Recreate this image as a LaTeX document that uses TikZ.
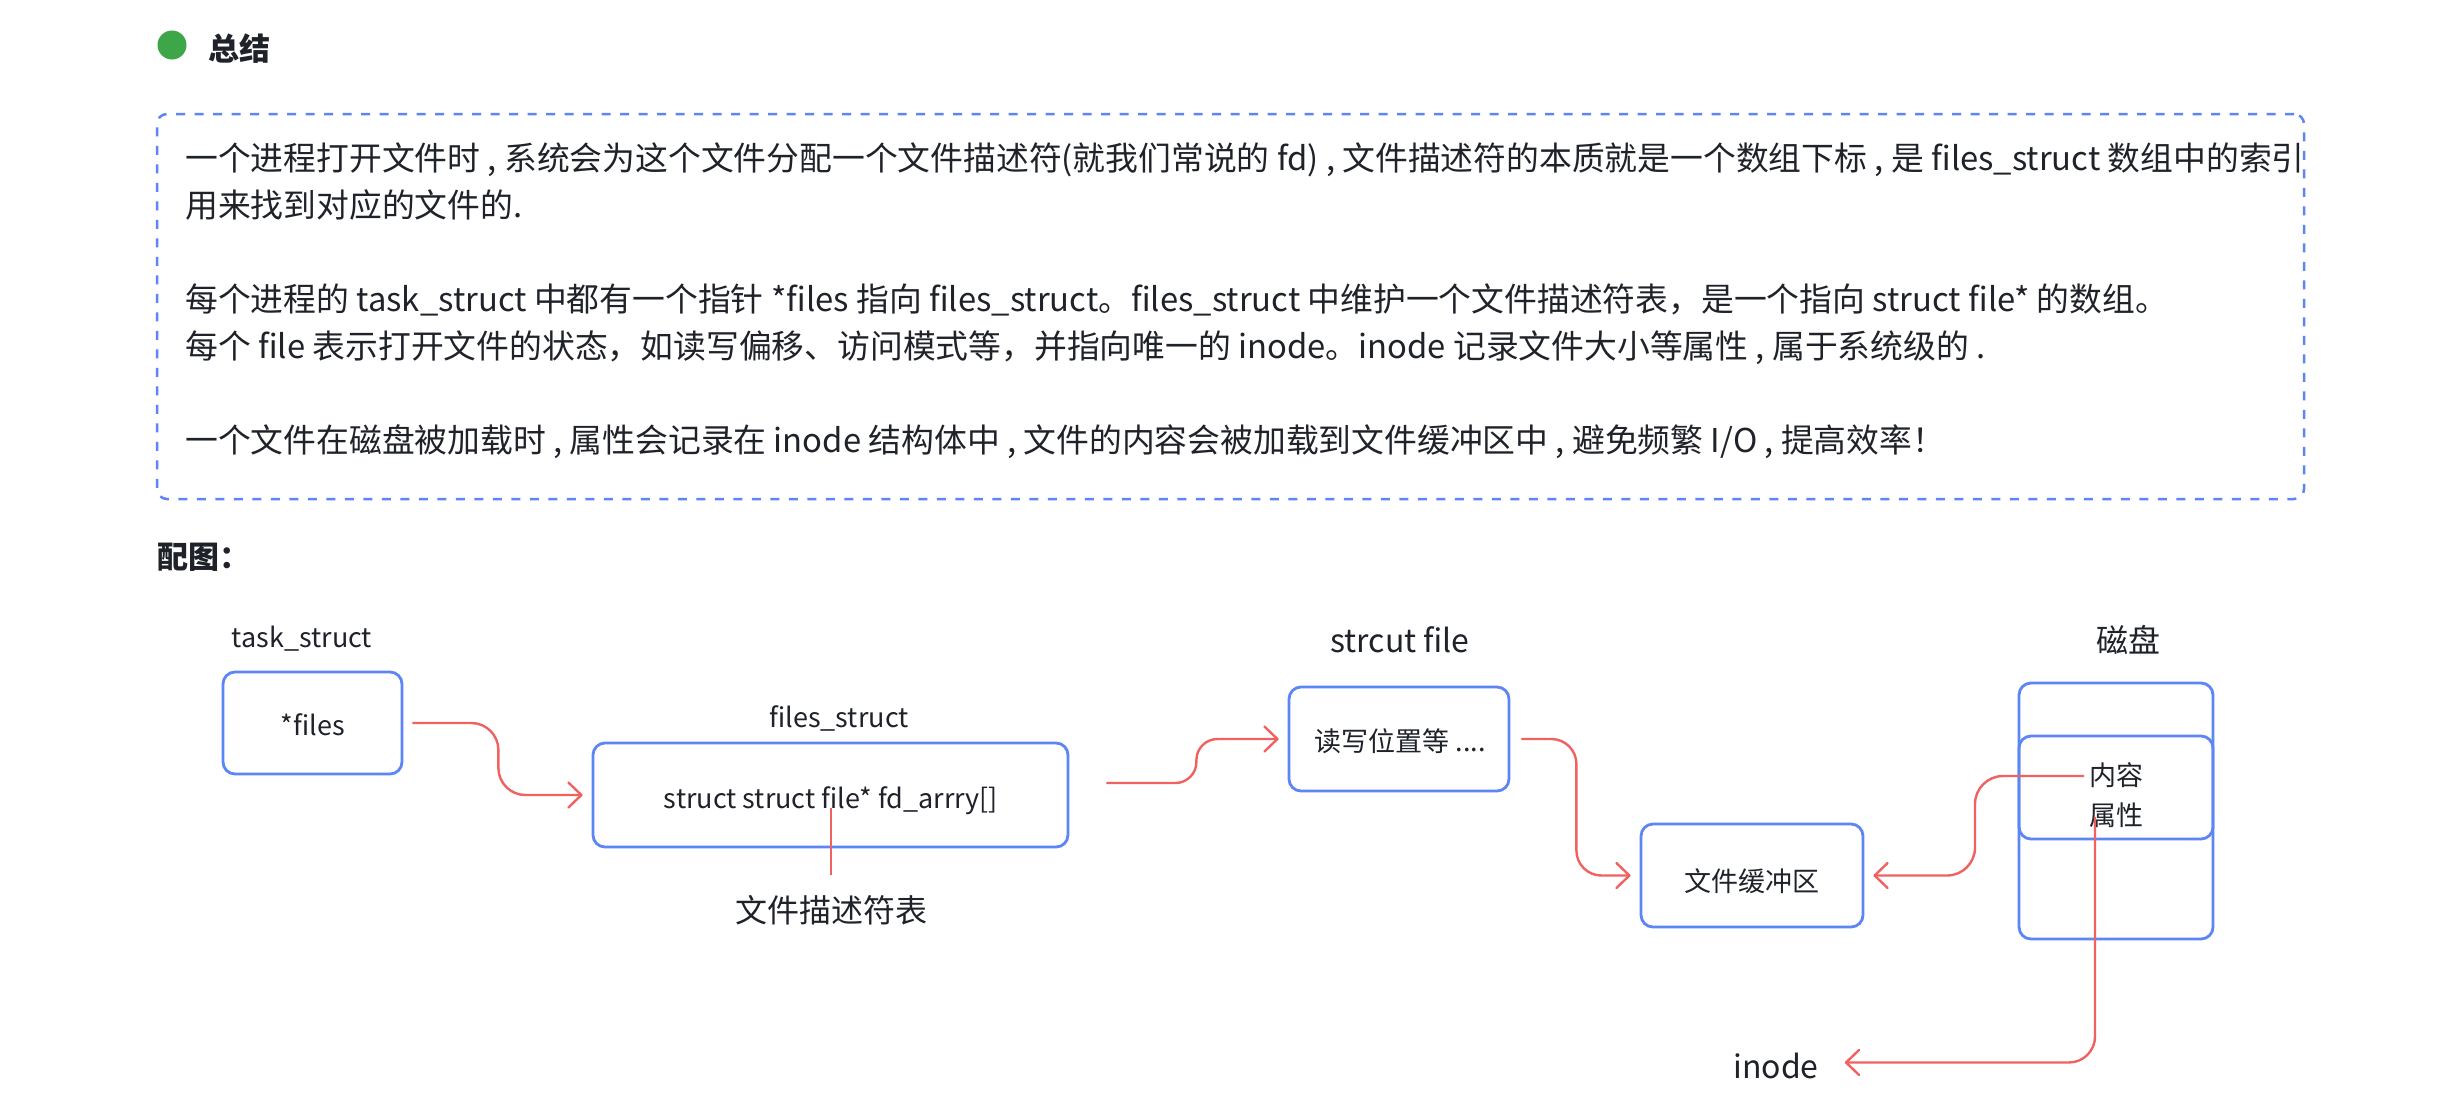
\documentclass[tikz,border=0pt]{standalone}
\usepackage{fontspec}
\setmainfont{Noto Sans CJK SC}
\usetikzlibrary{arrows.meta}
\definecolor{bblue}{HTML}{5C85F5}
\definecolor{rred}{HTML}{F0625F}
\definecolor{ggreen}{HTML}{3DA648}
\definecolor{ink}{HTML}{1F2329}
\begin{document}
\begin{tikzpicture}[x=1pt,y=-1pt,
  box/.style={draw=bblue, line width=2.8pt, rounded corners=12pt, inner sep=0pt},
  para/.style={text=ink, inner sep=0pt, anchor=base west, font=\fontsize{32.8}{47}\selectfont},
  lab/.style={text=ink, inner sep=0pt, anchor=base, font=\fontsize{27}{32}\selectfont},
  biglab/.style={text=ink, inner sep=0pt, anchor=base, font=\fontsize{32}{38}\selectfont},
  head/.style={text=ink, inner sep=0pt, anchor=base west, font=\fontsize{31}{36}\selectfont\bfseries},
  redline/.style={draw=rred, line width=2.4pt},
  conn/.style={redline, -{Straight Barb[length=13pt,width=25pt,line cap=round,line join=round]}},
]
\useasboundingbox[fill=white] (0,0) rectangle (2440,1104);

% heading
\node[circle, fill=ggreen, minimum size=29pt, inner sep=0pt] (dot) at (172,45) {};
\node[head] (title) at (208,60) {总结};

% summary box
\node[draw=bblue, line width=2.5pt, dash pattern=on 9pt off 9.5pt, rounded corners=10pt,
      minimum width=2147pt, minimum height=385pt, inner sep=0pt] (sumbox) at (1230.5,306.5) {};
\node[para] (p1) at (185,170) {一个进程打开文件时 , 系统会为这个文件分配一个文件描述符(就我们常说的 fd) , 文件描述符的本质就是一个数组下标 , 是 files\_struct 数组中的索引};
\node[para] (p2) at (185,217) {用来找到对应的文件的.};
\node[para] (p3) at (185,311) {每个进程的 task\_struct 中都有一个指针 *files 指向 files\_struct。files\_struct 中维护一个文件描述符表，是一个指向 struct file* 的数组。};
\node[para] (p4) at (185,358) {每个 file 表示打开文件的状态，如读写偏移、访问模式等，并指向唯一的 inode。inode 记录文件大小等属性 , 属于系统级的 .};
\node[para] (p5) at (185,452) {一个文件在磁盘被加载时 , 属性会记录在 inode 结构体中 , 文件的内容会被加载到文件缓冲区中 , 避免频繁 I/O , 提高效率！};

\node[head] (fig) at (157,568) {配图：};

% diagram boxes
\node[box, minimum width=179pt, minimum height=102pt] (tf) at (312.5,723) {};
\node[lab] (tftext) at (313,735) {*files};
\node[lab] (tslab) at (302,647) {task\_struct};

\node[box, minimum width=475pt, minimum height=104pt] (fs) at (830.5,795) {};
\node[lab] (fdt) at (831,808) {struct struct file* fd\_arrry[]};
\node[lab] (fslab) at (839,727) {files\_struct};
\node[biglab] (fdl) at (831,922) {文件描述符表};

\node[box, minimum width=220pt, minimum height=104pt] (rw) at (1399,739) {};
\node[lab] (rwtext) at (1400,751) {读写位置等 ....};
\node[biglab] (sflab) at (1400,652) {strcut file};

\node[box, minimum width=222pt, minimum height=103pt] (buf) at (1752,875.5) {};
\node[lab] (buftext) at (1752,891) {文件缓冲区};

\node[box, minimum width=194pt, minimum height=256pt] (disk) at (2116,811) {};
\node[box, minimum width=194pt, minimum height=103pt] (inner) at (2116,787.5) {};
\node[biglab] (disklab) at (2128,652) {磁盘};
\node[lab] (nr) at (2116,785) {内容};
\node[lab] (sx) at (2116,825) {属性};
\node[biglab] (inode) at (1776,1078) {inode};

% connectors
\draw[redline] (fdt.base) -- ([yshift=20pt]fdl.north);
\draw[conn, rounded corners=27pt] ([xshift=9pt]tf.east) -- ++(86,0) |- ([xshift=-9pt]fs.west);
\draw[conn, rounded corners=21pt] ([xshift=37pt,yshift=12pt]fs.east) -- ++(90,0) |- ([xshift=-9pt]rw.west);
\draw[conn, rounded corners=25pt] ([xshift=11pt]rw.east) -- ++(55,0) |- ([xshift=-9pt]buf.west);
\coordinate (c4) at (2084,776);
\coordinate (c5) at (2095,817);
\draw[conn, rounded corners=28pt] (c4) -- ++(-109,0) |- ([xshift=9pt]buf.east);
\draw[conn, rounded corners=26pt] (c5) |- ([xshift=26pt,yshift=3pt]inode.east);
\end{tikzpicture}
\end{document}
